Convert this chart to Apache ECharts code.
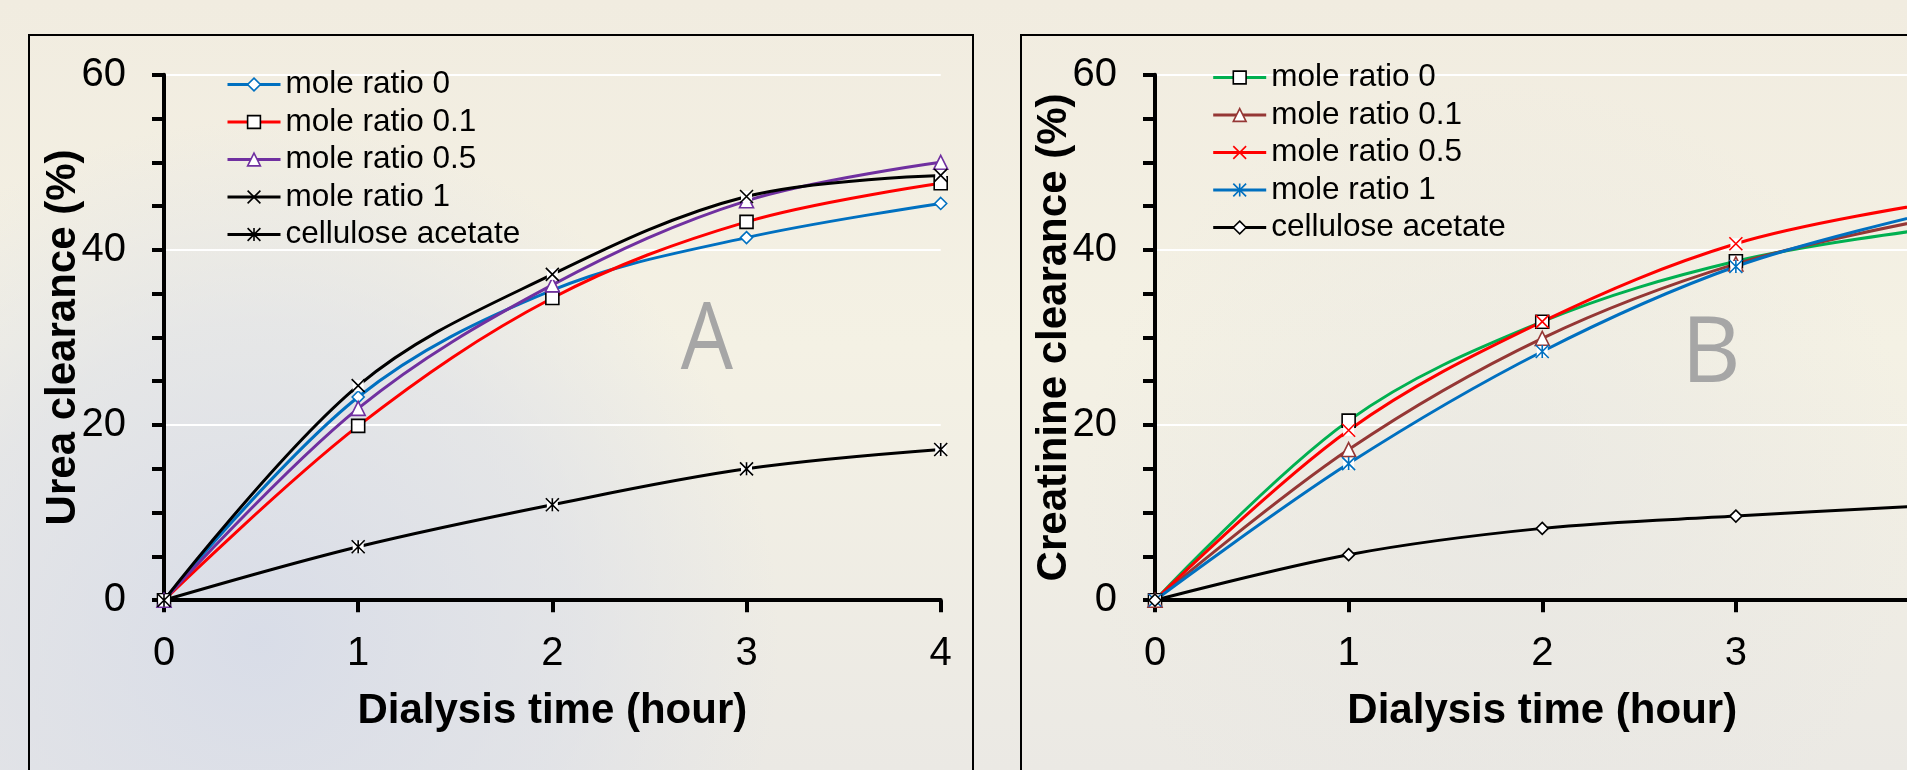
<!DOCTYPE html>
<html><head><meta charset="utf-8">
<script src="https://cdn.jsdelivr.net/npm/echarts@6/dist/echarts.min.js"></script>
<style>html,body{margin:0;padding:0;background:#f2eee0}#c{width:1907px;height:770px}</style>
</head><body><div id="c"></div>
<script>
// ---------- data ----------
const hours = [0, 1, 2, 3, 4];
const yTicks = [0, 20, 40, 60];
const legendNames = ['mole ratio 0', 'mole ratio 0.1', 'mole ratio 0.5', 'mole ratio 1', 'cellulose acetate'];
// Panel A: urea clearance (%)
const ureaMole0  = [0, 23.2, 35.4, 41.4, 45.3];
const ureaMole01 = [0, 19.9, 34.5, 43.2, 47.6];
const ureaMole05 = [0, 21.9, 36.0, 45.6, 50.0];
const ureaMole1  = [0, 24.5, 37.2, 46.1, 48.5];
const ureaCA     = [0, 6.1, 10.9, 15.0, 17.2];
// Panel B: creatinine clearance (%)
const creaMole0  = [0, 20.5, 31.8, 38.7, 42.4];
const creaMole01 = [0, 17.2, 29.9, 38.4, 43.5];
const creaMole05 = [0, 19.4, 31.8, 40.7, 45.3];
const creaMole1  = [0, 15.6, 28.4, 38.1, 44.2];
const creaCA     = [0, 5.2, 8.2, 9.6, 10.8];

// ---------- styling ----------
const FONT = '"Liberation Sans", Arial, sans-serif';
const SYM_X = 'path://M0,0L10,10M10,0L0,10';
const SYM_STAR = 'path://M0,0L10,10M10,0L0,10M5,0L5,10';
const chart = echarts.init(document.getElementById('c'));

function pts(arr) { return hours.map((h, i) => [h, arr[i]]); }

function mk(prefix, idx, arr, grid, lineColor, symbol, size, fill, stroke) {
  return {
    name: prefix + legendNames[idx], type: 'line', xAxisIndex: grid, yAxisIndex: grid,
    data: pts(arr), smooth: 0.35, symbol: symbol, symbolSize: size,
    lineStyle: { color: lineColor, width: 3 },
    itemStyle: { color: fill, borderColor: stroke, borderWidth: 1.6 },
    emphasis: { disabled: true }, silent: true, z: 3
  };
}
function bg(arr, grid) {
  return {
    name: 'bg', type: 'line', xAxisIndex: grid, yAxisIndex: grid, data: pts(arr),
    smooth: 0.35, symbol: 'rect', symbolSize: 11,
    lineStyle: { opacity: 0, width: 0 }, itemStyle: { color: '#ffffff', borderWidth: 0 },
    emphasis: { disabled: true }, silent: true, z: 3
  };
}
function xAx(grid) {
  return {
    type: 'value', gridIndex: grid, min: hours[0], max: hours[hours.length - 1], interval: hours[1] - hours[0],
    name: 'Dialysis time (hour)', nameLocation: 'middle', nameGap: 90,
    nameTextStyle: { fontFamily: FONT, fontSize: 42, fontWeight: 'bold', color: '#000' },
    axisLine: { show: true, onZero: false, lineStyle: { color: '#000', width: 4 } },
    axisTick: { show: true, length: 12, lineStyle: { color: '#000', width: 4 } },
    axisLabel: { fontFamily: FONT, fontSize: 40, color: '#000', margin: 34 },
    splitLine: { show: false }
  };
}
function yAx(grid, name) {
  return {
    type: 'value', gridIndex: grid, min: yTicks[0], max: yTicks[yTicks.length - 1], interval: yTicks[1] - yTicks[0],
    name: name, nameLocation: 'middle', nameGap: 80, nameRotate: 90, nameMoveOverlap: false,
    nameTextStyle: { fontFamily: FONT, fontSize: 42, fontWeight: 'bold', color: '#000' },
    axisLine: { show: true, onZero: false, lineStyle: { color: '#000', width: 4 } },
    axisTick: { show: true, length: 12, lineStyle: { color: '#000', width: 4 } },
    minorTick: { show: true, splitNumber: 4, length: 12, lineStyle: { color: '#000', width: 4 } },
    axisLabel: { fontFamily: FONT, fontSize: 40, color: '#000', margin: 38 },
    splitLine: { show: true, lineStyle: { color: '#ffffff', width: 2 } }
  };
}
function legend(prefix, left, top) {
  return {
    data: legendNames.map(n => prefix + n),
    formatter: n => n.slice(prefix.length),
    orient: 'vertical', left: left, top: top, padding: 0,
    itemWidth: 53, itemHeight: 16, itemGap: 5.5,
    textStyle: { fontFamily: FONT, fontSize: 31.5, color: '#000' },
    lineStyle: { width: 3 }, itemStyle: { borderWidth: 1.6 },
    selectedMode: false
  };
}

const option = {
  backgroundColor: '#f2eee0',
  animation: false,
  grid: [
    { left: 164, top: 74.7, width: 776.7, height: 525.5, containLabel: false, outerBoundsMode: 'none' },
    { left: 1155, top: 74.7, width: 774.5, height: 525.5, containLabel: false, outerBoundsMode: 'none' }
  ],
  xAxis: [xAx(0), xAx(1)],
  yAxis: [yAx(0, 'Urea clearance (%)'), yAx(1, 'Creatinine clearance (%)')],
  legend: [legend('A:', 226, 68.5), legend('B:', 1211.7, 61.5)],
  graphic: [
    { type: 'rect', z: -20, silent: true, shape: { x: 0, y: 0, width: 1907, height: 770 },
      style: { fill: new echarts.graphic.LinearGradient(0, 0, 0, 1, [
        { offset: 0, color: '#f1ece0' }, { offset: 0.45, color: '#f4f1e4' }, { offset: 1, color: '#ebe9e4' }]) } },
    { type: 'circle', z: -19, silent: true, shape: { cx: 260, cy: 640, r: 520 },
      style: { fill: new echarts.graphic.RadialGradient(0.5, 0.5, 0.5, [
        { offset: 0, color: 'rgba(214,219,232,0.9)' }, { offset: 0.6, color: 'rgba(218,222,233,0.55)' }, { offset: 1, color: 'rgba(220,224,234,0)' }]) } },
    { type: 'circle', z: -19, silent: true, shape: { cx: 1500, cy: 500, r: 420 },
      style: { fill: new echarts.graphic.RadialGradient(0.5, 0.5, 0.5, [
        { offset: 0, color: 'rgba(226,226,226,0.45)' }, { offset: 1, color: 'rgba(226,226,226,0)' }]) } },
    { type: 'rect', z: 10, silent: true, shape: { x: 29, y: 35, width: 944, height: 800 },
      style: { fill: 'none', stroke: '#000', lineWidth: 2 } },
    { type: 'rect', z: 10, silent: true, shape: { x: 1021, y: 35, width: 1000, height: 800 },
      style: { fill: 'none', stroke: '#000', lineWidth: 2 } },
    { type: 'text', z: 1, silent: true, x: 707, y: 342, scaleX: 0.88,
      style: { text: 'A', font: '94px "Open Sans", sans-serif', fill: '#a6a6a6', align: 'center', verticalAlign: 'middle' } },
    { type: 'text', z: 1, silent: true, x: 1711, y: 356,
      style: { text: 'B', font: '92px "Open Sans", sans-serif', fill: '#a6a6a6', align: 'center', verticalAlign: 'middle' } }
  ],
  series: [
    mk('A:', 0, ureaMole0, 0, '#0070c0', 'diamond', 12, '#ffffff', '#0070c0'),
    mk('A:', 1, ureaMole01, 0, '#ff0000', 'rect', 13, '#ffffff', '#000000'),
    mk('A:', 2, ureaMole05, 0, '#7030a0', 'triangle', 14, '#ffffff', '#7030a0'),
    bg(ureaMole1, 0),
    mk('A:', 3, ureaMole1, 0, '#000000', SYM_X, 13, '#000000', '#000000'),
    bg(ureaCA, 0),
    mk('A:', 4, ureaCA, 0, '#000000', SYM_STAR, 13, '#000000', '#000000'),

    mk('B:', 0, creaMole0, 1, '#00b050', 'rect', 13, '#ffffff', '#000000'),
    mk('B:', 1, creaMole01, 1, '#953735', 'triangle', 14, '#ffffff', '#953735'),
    bg(creaMole05, 1),
    mk('B:', 2, creaMole05, 1, '#ff0000', SYM_X, 13, '#ff0000', '#ff0000'),
    bg(creaMole1, 1),
    mk('B:', 3, creaMole1, 1, '#0070c0', SYM_STAR, 13, '#0070c0', '#0070c0'),
    mk('B:', 4, creaCA, 1, '#000000', 'diamond', 12, '#ffffff', '#000000')
  ]
};
chart.setOption(option);
</script></body></html>
